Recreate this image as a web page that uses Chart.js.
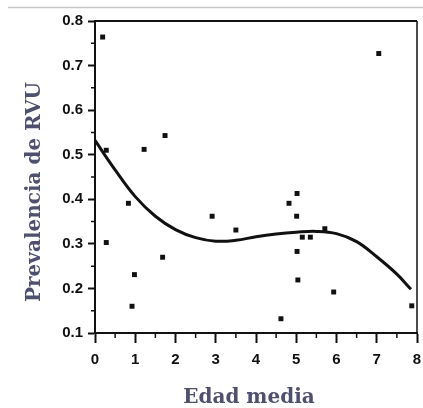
<!DOCTYPE html>
<html>
<head>
<meta charset="utf-8">
<script src="https://cdn.jsdelivr.net/npm/chart.js@4.4.1/dist/chart.umd.min.js"></script>
<style>
  body { margin: 0; background: #fff; }
  canvas { display: block; }
</style>
</head>
<body>
<canvas id="chart" width="423" height="408"></canvas>
<script>
// puntos observados (edad media, prevalencia)
var edadPuntos = [0.19, 0.28, 0.28, 0.83, 0.92, 0.98, 1.22, 1.68, 1.74, 2.91, 3.50, 4.62,
                  4.82, 5.02, 5.01, 5.02, 5.04, 5.15, 5.35, 5.71, 5.93, 7.05, 7.87];
var prevPuntos = [0.764, 0.510, 0.303, 0.391, 0.160, 0.231, 0.512, 0.270, 0.543, 0.362, 0.331, 0.132,
                  0.391, 0.413, 0.362, 0.283, 0.219, 0.315, 0.315, 0.334, 0.192, 0.727, 0.161];

// curva ajustada
var edadCurva = [0, 0.5, 1, 1.5, 2, 2.5, 3, 3.5, 4, 4.5, 5, 5.5, 6, 6.5, 7, 7.5, 7.85];
var prevCurva = [0.532, 0.466, 0.406, 0.362, 0.332, 0.314, 0.306, 0.308, 0.316, 0.322, 0.326, 0.328, 0.323, 0.305, 0.271, 0.232, 0.198];

var xTicks = [0, 1, 2, 3, 4, 5, 6, 7, 8];
var yTicks = [0.1, 0.2, 0.3, 0.4, 0.5, 0.6, 0.7, 0.8];

var tituloX = 'Edad media';
var tituloY = 'Prevalencia de RVU';

var puntos = edadPuntos.map(function (x, i) { return { x: x, y: prevPuntos[i] }; });
var curva = edadCurva.map(function (x, i) { return { x: x, y: prevCurva[i] }; });

var tickFont = { family: "'Liberation Sans', Arial, sans-serif", size: 15, weight: 'bold' };
var titleFont = "bold 20px 'DejaVu Serif', Georgia, serif";
var titleColor = '#4f4f6e';

// marco del grafico, ticks menores, titulos y linea gris de arriba
var marco = {
    id: 'marco',
    afterDraw: function (chart) {
        var ctx = chart.ctx;
        var a = chart.chartArea;
        var xs = chart.scales.x, ys = chart.scales.y;
        ctx.save();
        ctx.strokeStyle = '#c8c8c8';
        ctx.lineWidth = 1.5;
        ctx.beginPath();
        ctx.moveTo(8, 7.5);
        ctx.lineTo(423, 7.5);
        ctx.stroke();

        ctx.strokeStyle = '#111';
        ctx.lineWidth = 2;
        ctx.beginPath();
        ctx.moveTo(a.left, a.top);
        ctx.lineTo(a.right, a.top);
        ctx.stroke();
        ctx.lineWidth = 1.5;
        ctx.beginPath();
        ctx.moveTo(a.right, a.top);
        ctx.lineTo(a.right, a.bottom);
        ctx.stroke();

        ctx.lineWidth = 1.5;
        ctx.beginPath();
        for (var i = 0; i < xTicks.length - 1; i++) {
            var px = xs.getPixelForValue((xTicks[i] + xTicks[i + 1]) / 2);
            ctx.moveTo(px, a.bottom);
            ctx.lineTo(px, a.bottom + 5);
        }
        for (var j = 0; j < yTicks.length - 1; j++) {
            var py = ys.getPixelForValue((yTicks[j] + yTicks[j + 1]) / 2);
            ctx.moveTo(a.left, py);
            ctx.lineTo(a.left - 4, py);
        }
        ctx.stroke();

        // titulos de los ejes
        ctx.fillStyle = titleColor;
        ctx.font = titleFont;
        ctx.textAlign = 'center';
        ctx.textBaseline = 'alphabetic';
        ctx.fillText(tituloX, 249, 403);
        ctx.translate(40, 192);
        ctx.rotate(-Math.PI / 2);
        ctx.fillText(tituloY, 0, 0);
        ctx.restore();
    }
};

new Chart(document.getElementById('chart'), {
    data: {
        datasets: [{
            type: 'line',
            data: curva,
            borderColor: '#111',
            borderWidth: 3,
            pointRadius: 0,
            tension: 0.4,
            fill: false
        }, {
            type: 'scatter',
            data: puntos,
            pointStyle: 'rect',
            pointRadius: 3.5,
            backgroundColor: '#111',
            borderColor: '#111',
            borderWidth: 0
        }]
    },
    options: {
        responsive: false,
        animation: false,
        layout: { padding: { left: 0, right: 0, top: 21, bottom: 0 } },
        plugins: { legend: { display: false }, tooltip: { enabled: false } },
        scales: {
            x: {
                type: 'linear',
                min: 0,
                max: 8,
                afterBuildTicks: function (s) { s.ticks = xTicks.map(function (v) { return { value: v }; }); },
                afterFit: function (s) { s.height = 75; s.paddingRight = 6; },
                ticks: { font: tickFont, color: '#111', padding: 8, callback: function (v) { return v; } },
                grid: { drawOnChartArea: false, drawTicks: true, tickLength: 10, tickWidth: 2, tickColor: '#111' },
                border: { display: true, color: '#111', width: 2 }
            },
            y: {
                type: 'linear',
                min: 0.1,
                max: 0.8,
                afterBuildTicks: function (s) { s.ticks = yTicks.map(function (v) { return { value: v }; }); },
                afterFit: function (s) { s.width = 95; },
                ticks: { font: tickFont, color: '#111', padding: 5, callback: function (v) { return v.toFixed(1); } },
                grid: { drawOnChartArea: false, drawTicks: true, tickLength: 7, tickWidth: 2, tickColor: '#111' },
                border: { display: true, color: '#111', width: 2 }
            }
        }
    },
    plugins: [marco]
});
</script>
</body>
</html>
